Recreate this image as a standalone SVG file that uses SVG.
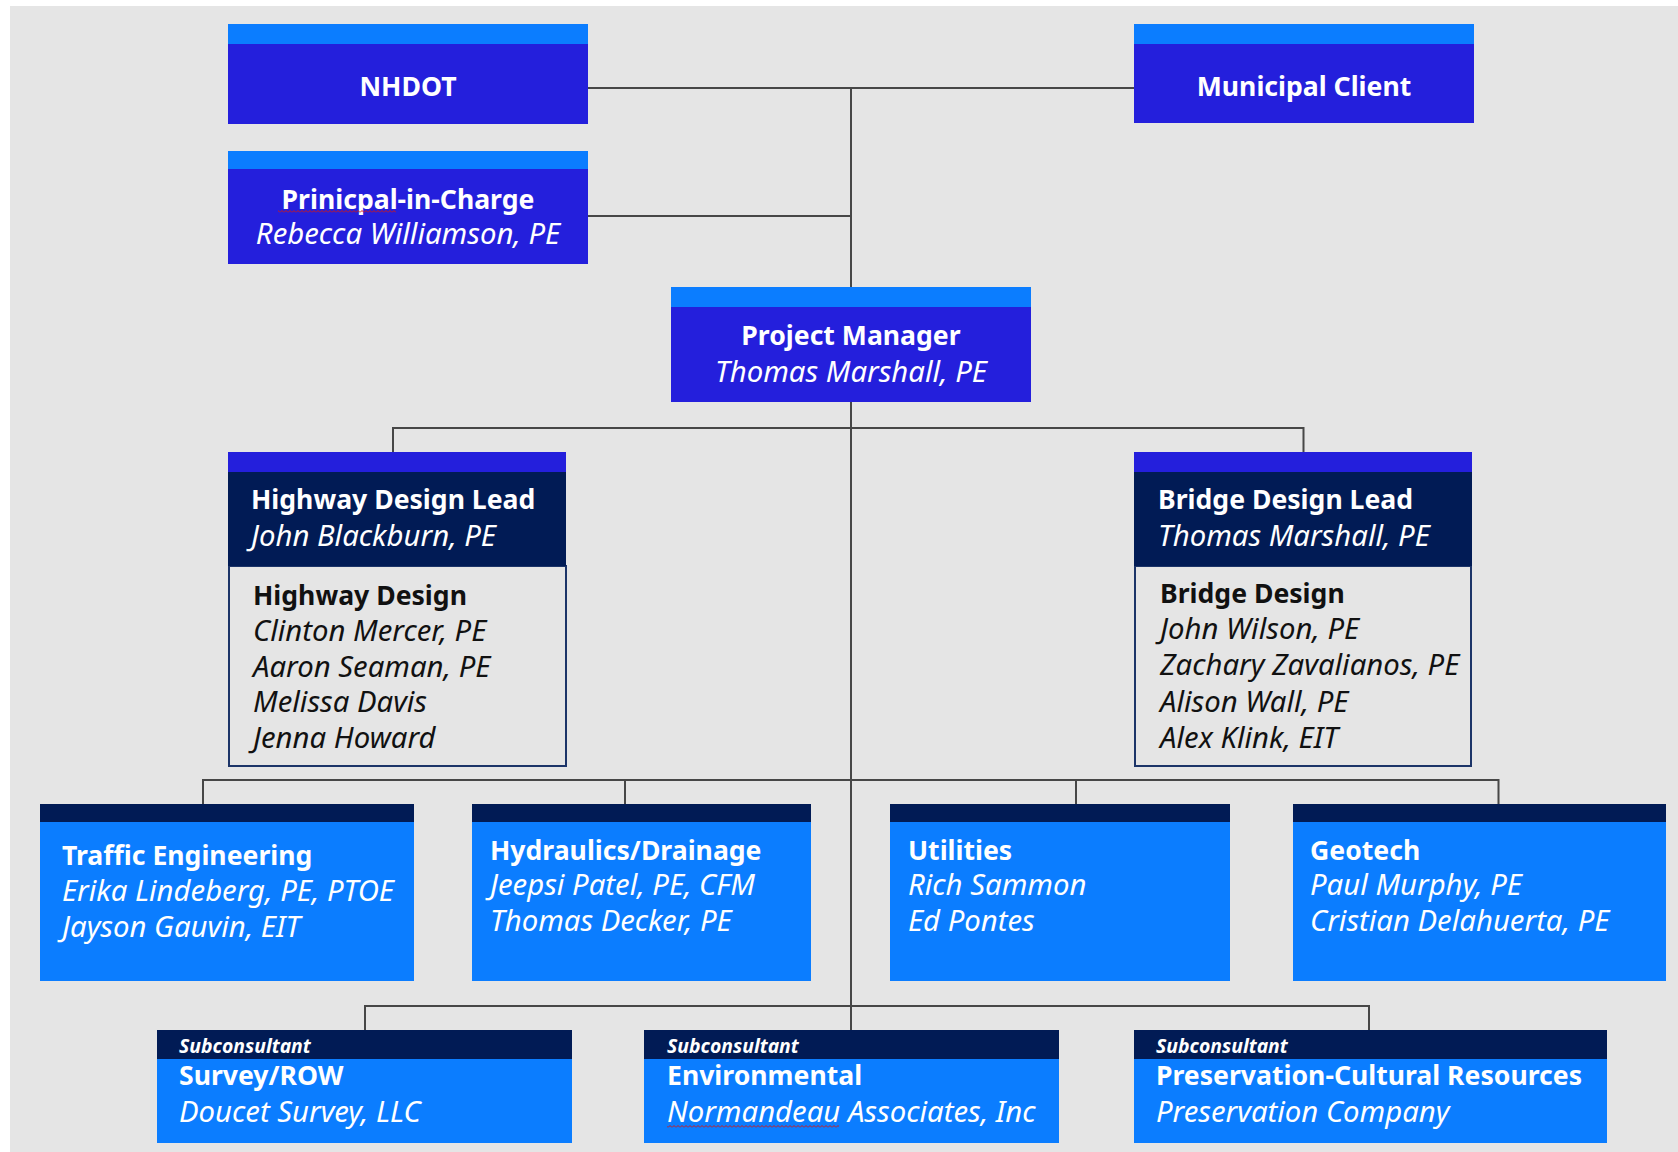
<svg xmlns="http://www.w3.org/2000/svg" width="1678" height="1152" viewBox="0 0 1678 1152">
<defs>
<style>
text{font-family:"Noto Sans","Open Sans","Liberation Sans",sans-serif;font-size:26.6px}
.t{font-weight:700;fill:#fff}
.n{font-style:italic;fill:#fff;font-size:29.3px}
.tb{font-weight:700;fill:#111}
.nb{font-style:italic;fill:#111;font-size:29.3px}
.sub{font-weight:700;font-style:italic;fill:#fff;font-size:19.4px}
.c{text-anchor:middle}
.roy{fill:#241fdc}
.sky{fill:#0b7dff}
.navy{fill:#011b55}
.conn{stroke:#474747;stroke-width:2;fill:none}
</style>
<pattern id="squig" width="4" height="3" patternUnits="userSpaceOnUse"><path d="M0,2.5 L2,0.5 L4,2.5" stroke="#d01818" stroke-width="1" fill="none"/></pattern>
</defs>
<rect x="0" y="0" width="1678" height="1152" fill="#ffffff"/>
<rect x="10" y="6" width="1668" height="1146" fill="#e5e5e5"/>

<g id="connectors" class="conn">
<path d="M588,88 H1134"/>
<path d="M851,88 V287"/>
<path d="M588,216 H851"/>
<path d="M851,402 V1030"/>
<path d="M393,452 V428 H1303.5 V452"/>
<path d="M203,804 V780 H1498.5 V804"/>
<path d="M625,780 V804"/>
<path d="M1076,780 V804"/>
<path d="M365,1030 V1006 H1369 V1030"/>
</g>

<g id="nhdot">
<rect class="roy" x="228" y="24" width="360" height="100"/>
<rect class="sky" x="228" y="24" width="360" height="20"/>
<text class="t c" x="408" y="96">NHDOT</text>
</g>

<g id="municipal-client">
<rect class="roy" x="1134" y="24" width="340" height="99"/>
<rect class="sky" x="1134" y="24" width="340" height="20"/>
<text class="t c" x="1304" y="96">Municipal Client</text>
</g>

<g id="principal-in-charge">
<rect class="roy" x="228" y="151" width="360" height="113"/>
<rect class="sky" x="228" y="151" width="360" height="18"/>
<text class="t c" x="408" y="209">Prinicpal-in-Charge</text>
<text class="n c" x="408" y="244">Rebecca Williamson, PE</text>
<rect x="278" y="210" width="118" height="3" fill="url(#squig)"/>
</g>

<g id="project-manager">
<rect class="roy" x="671" y="287" width="360" height="115"/>
<rect class="sky" x="671" y="287" width="360" height="20"/>
<text class="t c" x="851" y="345">Project Manager</text>
<text class="n c" x="851" y="382">Thomas Marshall, PE</text>
</g>

<g id="highway-design-lead">
<rect x="229" y="566" width="337" height="200" fill="#e5e5e5" stroke="#1c3468" stroke-width="2"/>
<rect class="roy" x="228" y="452" width="338" height="20"/>
<rect class="navy" x="228" y="472" width="338" height="94"/>
<text class="t" x="251" y="509">Highway Design Lead</text>
<text class="n" x="251" y="546">John Blackburn, PE</text>
<text class="tb" x="253" y="605">Highway Design</text>
<text class="nb" x="253" y="641">Clinton Mercer, PE</text>
<text class="nb" x="253" y="677">Aaron Seaman, PE</text>
<text class="nb" x="253" y="712">Melissa Davis</text>
<text class="nb" x="253" y="748">Jenna Howard</text>
</g>

<g id="bridge-design-lead">
<rect x="1135" y="566" width="336" height="200" fill="#e5e5e5" stroke="#1c3468" stroke-width="2"/>
<rect class="roy" x="1134" y="452" width="338" height="20"/>
<rect class="navy" x="1134" y="472" width="338" height="94"/>
<text class="t" x="1158" y="509">Bridge Design Lead</text>
<text class="n" x="1158" y="546">Thomas Marshall, PE</text>
<text class="tb" x="1160" y="603">Bridge Design</text>
<text class="nb" x="1160" y="639">John Wilson, PE</text>
<text class="nb" x="1160" y="675">Zachary Zavalianos, PE</text>
<text class="nb" x="1160" y="712">Alison Wall, PE</text>
<text class="nb" x="1160" y="748">Alex Klink, EIT</text>
</g>

<g id="traffic-engineering">
<rect class="sky" x="40" y="804" width="374" height="177"/>
<rect class="navy" x="40" y="804" width="374" height="18"/>
<text class="t" x="62" y="865">Traffic Engineering</text>
<text class="n" x="62" y="901">Erika Lindeberg, PE, PTOE</text>
<text class="n" x="62" y="937">Jayson Gauvin, EIT</text>
</g>

<g id="hydraulics-drainage">
<rect class="sky" x="472" y="804" width="339" height="177"/>
<rect class="navy" x="472" y="804" width="339" height="18"/>
<text class="t" x="490" y="860">Hydraulics/Drainage</text>
<text class="n" x="490" y="895">Jeepsi Patel, PE, CFM</text>
<text class="n" x="490" y="931">Thomas Decker, PE</text>
</g>

<g id="utilities">
<rect class="sky" x="890" y="804" width="340" height="177"/>
<rect class="navy" x="890" y="804" width="340" height="18"/>
<text class="t" x="908" y="860">Utilities</text>
<text class="n" x="908" y="895">Rich Sammon</text>
<text class="n" x="908" y="931">Ed Pontes</text>
</g>

<g id="geotech">
<rect class="sky" x="1293" y="804" width="373" height="177"/>
<rect class="navy" x="1293" y="804" width="373" height="18"/>
<text class="t" x="1310" y="860">Geotech</text>
<text class="n" x="1310" y="895">Paul Murphy, PE</text>
<text class="n" x="1310" y="931">Cristian Delahuerta, PE</text>
</g>

<g id="survey-row">
<rect class="sky" x="157" y="1030" width="415" height="113"/>
<rect class="navy" x="157" y="1030" width="415" height="29"/>
<text class="sub" x="179" y="1053">Subconsultant</text>
<text class="t" x="179" y="1085">Survey/ROW</text>
<text class="n" x="179" y="1122">Doucet Survey, LLC</text>
</g>

<g id="environmental">
<rect class="sky" x="644" y="1030" width="415" height="113"/>
<rect class="navy" x="644" y="1030" width="415" height="29"/>
<text class="sub" x="667" y="1053">Subconsultant</text>
<text class="t" x="667" y="1085">Environmental</text>
<text class="n" x="667" y="1122">Normandeau Associates, Inc</text>
<rect x="667" y="1125" width="172" height="3" fill="url(#squig)"/>
</g>

<g id="preservation-cultural-resources">
<rect class="sky" x="1134" y="1030" width="473" height="113"/>
<rect class="navy" x="1134" y="1030" width="473" height="29"/>
<text class="sub" x="1156" y="1053">Subconsultant</text>
<text class="t" x="1156" y="1085">Preservation-Cultural Resources</text>
<text class="n" x="1156" y="1122">Preservation Company</text>
</g>
</svg>
